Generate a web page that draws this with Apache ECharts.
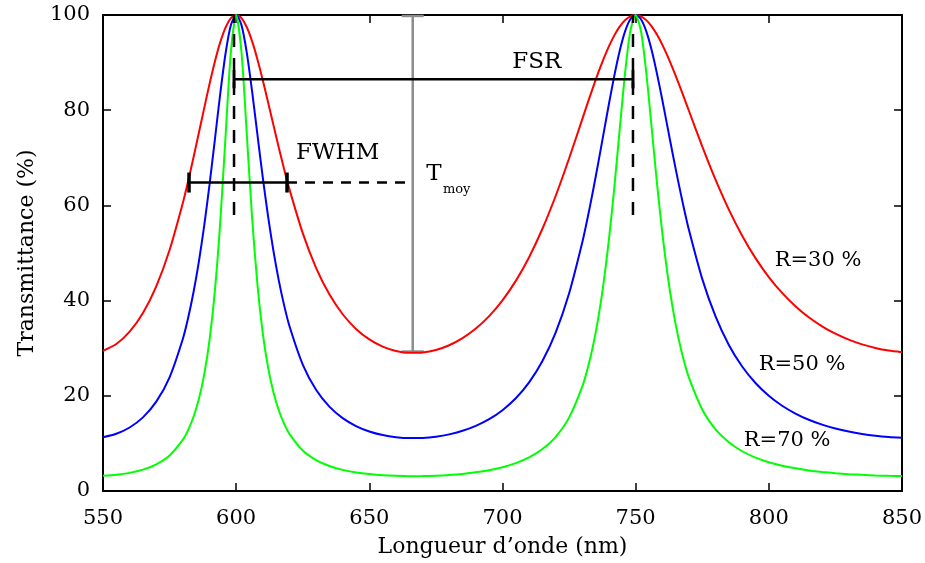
<!DOCTYPE html>
<html>
<head>
<meta charset="utf-8">
<script src="https://cdn.jsdelivr.net/npm/echarts@6/dist/echarts.min.js"></script>
<style>
  html, body { margin: 0; padding: 0; background: #fff; }
  #chart { width: 925px; height: 563px; }
</style>
</head>
<body>
<div id="chart"></div>
<script>
// Wavelength samples (nm): denser near the two transmission peaks
const wavelengths = [
  550, 555, 560, 565, 570, 575, 580,
  582, 584, 586, 588, 590, 592, 594, 596, 598, 600, 602, 604, 606, 608, 610, 612, 614, 616, 618,
  620, 625, 630, 635, 640, 645, 650, 655, 660, 665, 670, 675, 680, 685, 690, 695, 700, 705, 710, 715, 720, 725, 730,
  732, 734, 736, 738, 740, 742, 744, 746, 748, 750, 752, 754, 756, 758, 760, 762, 764, 766, 768,
  770, 775, 780, 785, 790, 795, 800, 805, 810, 815, 820, 825, 830, 835, 840, 845, 850
];

// Transmittance (%) for mirror reflectivity R = 30 %
const tR30 = [
  29.42, 30.87, 33.47, 37.41, 43.01, 50.63, 60.57,
  65.19, 70.12, 75.25, 80.44, 85.50, 90.19, 94.24, 97.36, 99.33, 100, 99.34, 97.43, 94.45, 90.65, 86.29, 81.63, 76.87, 72.17, 67.66,
  63.42, 54.17, 46.88, 41.31, 37.13, 34.05, 31.84, 30.33, 29.42, 29.02, 29.10, 29.63, 30.62, 32.11, 34.12, 36.74, 40.05, 44.14, 49.12, 55.09, 62.03, 69.85, 78.18,
  81.53, 84.80, 87.93, 90.84, 93.46, 95.72, 97.56, 98.90, 99.72, 100, 99.73, 98.92, 97.63, 95.89, 93.78, 91.35, 88.68, 85.85, 82.89,
  79.88, 72.42, 65.41, 59.11, 53.64, 48.93, 44.95, 41.61, 38.83, 36.50, 34.60, 33.04, 31.79, 30.80, 30.05, 29.51, 29.17
];

// Transmittance (%) for R = 50 %
const tR50 = [
  11.31, 12.03, 13.34, 15.47, 18.77, 23.89, 31.99,
  36.44, 41.80, 48.20, 55.73, 64.36, 73.79, 83.35, 91.86, 97.84, 100, 97.87, 92.06, 83.90, 74.80, 65.84, 57.63, 50.43, 44.26, 39.05,
  34.67, 26.57, 21.27, 17.73, 15.31, 13.65, 12.51, 11.76, 11.31, 11.12, 11.16, 11.42, 11.90, 12.65, 13.69, 15.09, 16.98, 19.48, 22.81, 27.30, 33.33, 41.49, 52.32,
  57.47, 63.08, 69.04, 75.23, 81.40, 87.26, 92.43, 96.50, 99.10, 100, 99.11, 96.57, 92.65, 87.72, 82.19, 76.38, 70.58, 65.00, 59.73,
  54.87, 44.56, 36.66, 30.68, 26.15, 22.68, 20.00, 17.91, 16.27, 14.96, 13.94, 13.12, 12.48, 11.99, 11.62, 11.36, 11.20
];

// Transmittance (%) for R = 70 %
const tR70 = [
  3.18, 3.40, 3.81, 4.49, 5.61, 7.47, 10.79,
  12.85, 15.59, 19.31, 24.46, 31.71, 42.00, 56.29, 74.38, 92.10, 100, 92.20, 74.88, 57.26, 43.29, 33.14, 25.91, 20.73, 16.96, 14.14,
  12.01, 8.51, 6.50, 5.25, 4.44, 3.91, 3.55, 3.31, 3.18, 3.12, 3.13, 3.21, 3.36, 3.59, 3.92, 4.37, 5.00, 5.86, 7.06, 8.81, 11.39, 15.42, 22.00,
  25.79, 30.52, 36.44, 43.85, 52.95, 63.79, 75.85, 87.64, 96.61, 100, 96.64, 87.87, 76.42, 64.76, 54.27, 45.40, 38.15, 32.32, 27.61,
  23.82, 17.13, 12.96, 10.22, 8.35, 7.01, 6.04, 5.31, 4.76, 4.33, 4.00, 3.74, 3.54, 3.39, 3.27, 3.19, 3.14
];

const seriesNames = ['R=30 %', 'R=50 %', 'R=70 %'];
const xTicks = [550, 600, 650, 700, 750, 800, 850];
const yTicks = [0, 20, 40, 60, 80, 100];

// Construction lines (nm, %)
const peakMarkers = [599.2, 749.0];          // dashed verticals through the peaks
const peakMarkerRange = [58, 100];
const fsrLine = [[599.2, 86.5], [749.0, 86.5]];
const fwhmLine = [[582.3, 64.8], [619.1, 64.8]];
const fwhmDashed = [[619.1, 64.8], [666.3, 64.8]];
const tmoyLine = [[666.3, 29.3], [666.3, 99.8]];

// Text annotations: [x (nm), y (%), text]
const curveLabels = [[818.5, 48.5, 'R=30 %'], [812.5, 26.5, 'R=50 %'], [806.9, 10.7, 'R=70 %']];
const markerLabels = [[712.9, 90.1, 'FSR'], [638.1, 71.0, 'FWHM'], [674.3, 66.6, 'T']];
const subscriptLabels = [[682.8, 63.4, 'moy']];

const FONT = 'DejaVu Serif';
const TEXT = '#000';
const colors = ['#ff0000', '#0000ff', '#00ff00'];
const curves = [tR30, tR50, tR70];

const zip = (xs, ys) => xs.map((x, i) => [x, ys[i]]);

const series = [];
curves.forEach((vals, i) => {
  series.push({
    name: seriesNames[i],
    type: 'line',
    data: zip(wavelengths, vals),
    smooth: 0.25,
    showSymbol: false,
    lineStyle: { color: colors[i], width: 2 },
    z: 3,
    silent: true
  });
});

peakMarkers.forEach(x => {
  series.push({
    type: 'line',
    data: [[x, peakMarkerRange[0]], [x, peakMarkerRange[1]]],
    showSymbol: false,
    lineStyle: { color: '#000', width: 2.5, type: [13, 11] },
    z: 4, silent: true
  });
});

series.push({
  type: 'line', data: fsrLine,
  symbol: 'rect', symbolSize: [3, 18], showSymbol: true,
  itemStyle: { color: '#000' },
  lineStyle: { color: '#000', width: 2.5 },
  z: 5, silent: true
});
series.push({
  type: 'line', data: fwhmLine,
  symbol: 'rect', symbolSize: [3.5, 20], showSymbol: true,
  itemStyle: { color: '#000' },
  lineStyle: { color: '#000', width: 2.5 },
  z: 5, silent: true
});
series.push({
  type: 'line', data: fwhmDashed,
  showSymbol: false,
  lineStyle: { color: '#000', width: 2.5, type: [10, 8] },
  z: 5, silent: true
});
series.push({
  type: 'line', data: tmoyLine,
  symbol: 'rect', symbolSize: [22, 2.5], showSymbol: true,
  itemStyle: { color: '#8c8c8c' },
  lineStyle: { color: '#8c8c8c', width: 2.5 },
  z: 2, silent: true
});

const textSeries = (data, size) => ({
  type: 'scatter',
  data: data,
  symbolSize: 0,
  silent: true,
  z: 6,
  itemStyle: { opacity: 1 },
  label: {
    show: true,
    position: 'inside',
    formatter: p => p.data[2],
    fontFamily: FONT,
    fontSize: size,
    color: TEXT,
    opacity: 1
  }
});
series.push(textSeries(curveLabels, 21));
series.push(textSeries(markerLabels, 23));
series.push(textSeries(subscriptLabels, 13));

const axisCommon = {
  type: 'value',
  axisLine: { show: true, onZero: false, lineStyle: { color: '#000', width: 2 } },
  axisTick: { show: true, inside: true, length: 8, lineStyle: { color: '#000', width: 1.5 } },
  splitLine: { show: false }
};

const option = {
  animation: false,
  backgroundColor: '#ffffff',
  grid: { left: 103, right: 22, top: 15, bottom: 72 },
  xAxis: [
    Object.assign({}, axisCommon, {
      min: xTicks[0], max: xTicks[xTicks.length - 1], interval: 50,
      position: 'bottom',
      name: 'Longueur d’onde (nm)',
      nameLocation: 'middle', nameGap: 45,
      nameTextStyle: { fontFamily: FONT, fontSize: 22, color: TEXT },
      axisLabel: { margin: 17, fontFamily: FONT, fontSize: 21, color: TEXT }
    }),
    Object.assign({}, axisCommon, {
      min: xTicks[0], max: xTicks[xTicks.length - 1], interval: 50,
      position: 'top',
      axisLabel: { show: false }
    })
  ],
  yAxis: [
    Object.assign({}, axisCommon, {
      min: yTicks[0], max: yTicks[yTicks.length - 1], interval: 20,
      position: 'left',
      name: 'Transmittance (%)',
      nameLocation: 'middle', nameGap: 65,
      nameTextStyle: { fontFamily: FONT, fontSize: 22, color: TEXT },
      axisLabel: { margin: 13, fontFamily: FONT, fontSize: 21, color: TEXT }
    }),
    Object.assign({}, axisCommon, {
      min: yTicks[0], max: yTicks[yTicks.length - 1], interval: 20,
      position: 'right',
      axisLabel: { show: false }
    })
  ],
  series: series
};

const chart = echarts.init(document.getElementById('chart'), null, { renderer: 'canvas' });
chart.setOption(option);
</script>
</body>
</html>
